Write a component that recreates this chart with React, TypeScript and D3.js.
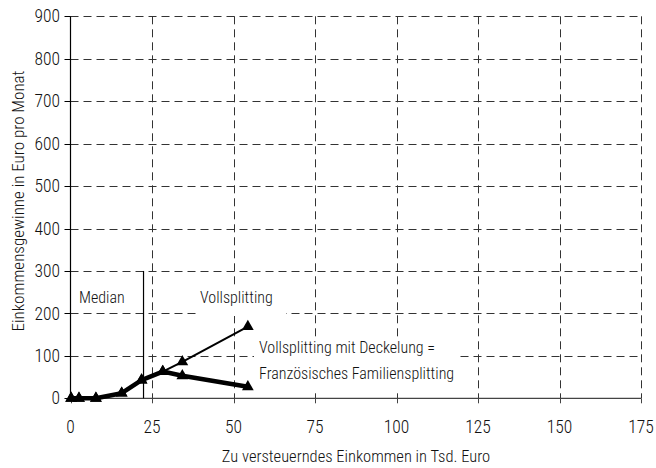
import React from "react";
import * as d3 from "d3";

const incomes = [0.2, 2.6, 7.8, 15.7, 21.8, 28.3, 34.3, 54.4];
const vollsplitting = [0, 0, 0, 12, 43, 63, 86, 169];
const deckelung = [0, 0, 0, 12, 43, 63, 53, 27];
const xTicks = [0, 25, 50, 75, 100, 125, 150, 175];
const yTicks = [0, 100, 200, 300, 400, 500, 600, 700, 800, 900];
const median = 22.4;
const medianTop = 300;

const W = 656;
const H = 468;
const FONT = "'Roboto Condensed', 'Liberation Sans Narrow', sans-serif";

export default function App() {
  const x = d3.scaleLinear().domain([0, 175]).range([70.5, 641]);
  const y = d3.scaleLinear().domain([0, 900]).range([398.3, 16.3]);
  const line = d3
    .line<[number, number]>()
    .x((d) => x(d[0]))
    .y((d) => y(d[1]));
  const tri = d3.symbol().type(d3.symbolTriangle).size(60);
  const vPts: [number, number][] = incomes.map((v, i) => [v, vollsplitting[i]]);
  const dPts: [number, number][] = incomes.map((v, i) => [v, deckelung[i]]);
  const grid = "#333";
  const dash = "8,5";
  return (
    <svg width={W} height={H} style={{ position: "absolute", left: 0, top: 0 }} fontFamily={FONT} fontWeight={300} fill="#111">
      <rect width={W} height={H} fill="#fff" />
      {yTicks.filter((t) => t > 0).map((t) => (
        <line key={"h" + t} x1={x(0)} x2={x(175)} y1={Math.round(y(t)) + 0.5} y2={Math.round(y(t)) + 0.5} stroke={grid} strokeDasharray={dash} />
      ))}
      {xTicks.filter((t) => t > 0).map((t) => (
        <line key={"v" + t} x1={Math.round(x(t)) + 0.5} x2={Math.round(x(t)) + 0.5} y1={y(900)} y2={y(0)} stroke={grid} strokeDasharray={dash} />
      ))}
      {/* label backgrounds */}
      <rect x={196} y={286} width={90} height={30} fill="#fff" />
      <rect x={254} y={337} width={206} height={56} fill="#fff" />
      {/* axes */}
      <line x1={x(0)} x2={x(0)} y1={y(900)} y2={y(0)} stroke="#000" strokeWidth={1.2} />
      {yTicks.map((t) => (
        <line key={"yt" + t} x1={x(0) - 6} x2={x(0)} y1={Math.round(y(t)) + 0.5} y2={Math.round(y(t)) + 0.5} stroke="#000" />
      ))}
      <line x1={x(0)} x2={x(175)} y1={y(0)} y2={y(0)} stroke="#444" strokeWidth={1.2} />
      {xTicks.map((t) => (
        <line key={"xt" + t} x1={Math.round(x(t)) + 0.5} x2={Math.round(x(t)) + 0.5} y1={y(0)} y2={y(0) + 5} stroke="#444" />
      ))}
      {yTicks.map((t) => (
        <text key={"yl" + t} x={60} y={y(t)} dy="0.35em" textAnchor="end" fontSize={17.5}>{t}</text>
      ))}
      {xTicks.map((t) => (
        <text key={"xl" + t} x={x(t)} y={427} dy="0.35em" textAnchor="middle" fontSize={17.5}>{t}</text>
      ))}
      <text x={356} y={456} dy="0.35em" textAnchor="middle" fontSize={16.5}>Zu versteuerndes Einkommen in Tsd. Euro</text>
      <text transform={`translate(18,${201}) rotate(-90)`} dy="0.35em" textAnchor="middle" fontSize={17}>Einkommensgewinne in Euro pro Monat</text>
      {/* median */}
      <line x1={x(median)} x2={x(median)} y1={y(medianTop)} y2={y(0)} stroke="#000" strokeWidth={1.2} />
      <text x={79} y={297} dy="0.35em" fontSize={16}>Median</text>
      <text x={200} y={297} dy="0.35em" fontSize={16}>Vollsplitting</text>
      <text x={259} y={347} dy="0.35em" fontSize={16}>Vollsplitting mit Deckelung =</text>
      <text x={259} y={373} dy="0.35em" fontSize={16}>Französisches Familiensplitting</text>
      {/* series */}
      <path d={line(dPts) || ""} fill="none" stroke="#000" strokeWidth={4.5} strokeLinejoin="round" />
      <path d={line(vPts) || ""} fill="none" stroke="#000" strokeWidth={2} strokeLinejoin="round" />
      {dPts.map((p, i) => (
        <path key={"dm" + i} d={tri() || ""} transform={`translate(${x(p[0])},${y(p[1])})`} fill="#000" />
      ))}
      {vPts.map((p, i) => (
        <path key={"vm" + i} d={tri() || ""} transform={`translate(${x(p[0])},${y(p[1])})`} fill="#000" />
      ))}
    </svg>
  );
}
